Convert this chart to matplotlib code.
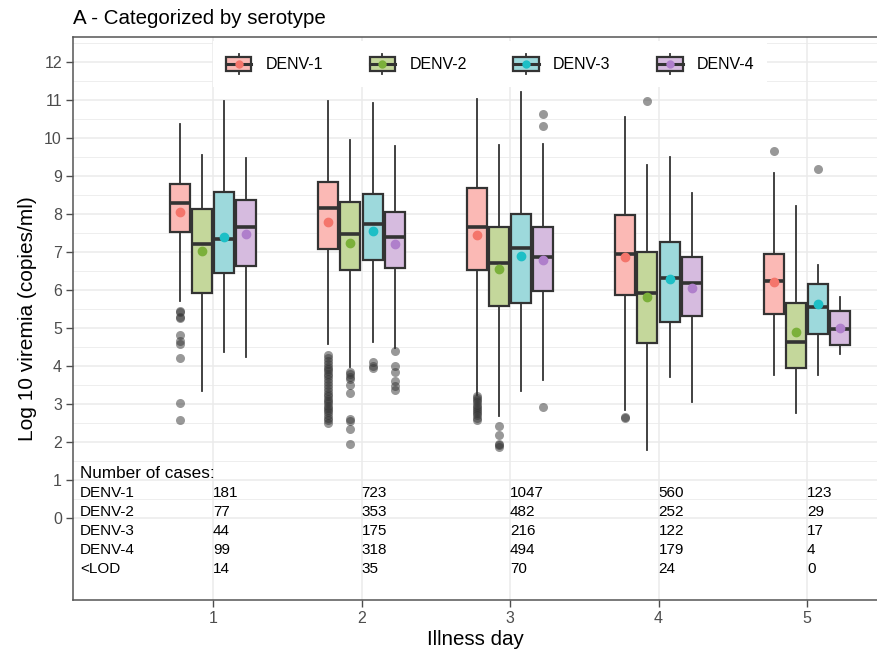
import matplotlib
matplotlib.use("Agg")
import matplotlib.pyplot as plt
from matplotlib.legend_handler import HandlerBase
from matplotlib.patches import Rectangle, Patch
from matplotlib.lines import Line2D
import numpy as np

plt.rcParams["font.family"] = ["Liberation Sans", "DejaVu Sans"]

# ---------------- data ----------------
days = [1, 2, 3, 4, 5]
serotypes = ["DENV-1", "DENV-2", "DENV-3", "DENV-4"]
mean_colors = ["#F4756B", "#7BB03A", "#1DBFC6", "#AF7FCB"]
fill_colors = ["#FBB9B5", "#C4D79B", "#9DD9DC", "#D6BBDF"]

d1_q1 = [7.52, 7.08, 6.53, 5.87, 5.36]
d1_med = [8.30, 8.15, 7.67, 6.94, 6.25]
d1_q3 = [8.79, 8.85, 8.69, 7.97, 6.95]
d1_lo = [5.72, 4.58, 3.24, 2.84, 3.75]
d1_hi = [10.36, 10.98, 11.03, 10.54, 9.07]
d1_mean = [8.06, 7.80, 7.45, 6.88, 6.22]
d1_out = [
    [5.45, 5.43, 5.28, 5.26, 4.82, 4.65, 4.58, 4.20, 3.02, 2.58],
    [4.29, 4.20, 4.12, 4.05, 3.98, 3.92, 3.86, 3.80, 3.74, 3.66, 3.58, 3.50, 3.42,
     3.35, 3.27, 3.20, 3.14, 3.08, 3.02, 2.96, 2.90, 2.84, 2.78, 2.72, 2.64, 2.57, 2.51],
    [3.20, 3.15, 3.10, 3.04, 2.98, 2.93, 2.88, 2.82, 2.76, 2.70, 2.64, 2.58],
    [2.67, 2.63],
    [9.66],
]

d2_q1 = [5.91, 6.53, 5.58, 4.60, 3.96]
d2_med = [7.20, 7.48, 6.70, 5.93, 4.64]
d2_q3 = [8.13, 8.31, 7.67, 6.99, 5.67]
d2_lo = [3.35, 3.98, 2.69, 1.79, 2.75]
d2_hi = [9.55, 9.95, 9.82, 9.29, 8.22]
d2_mean = [7.03, 7.25, 6.54, 5.81, 4.89]
d2_out = [
    [],
    [3.85, 3.78, 3.72, 3.65, 3.50, 3.28, 2.60, 2.55, 2.33, 1.95],
    [2.43, 2.18, 1.95, 1.91, 1.88],
    [10.97],
    [],
]

d3_q1 = [6.44, 6.79, 5.67, 5.15, 4.84]
d3_med = [7.33, 7.73, 7.10, 6.31, 5.56]
d3_q3 = [8.59, 8.52, 7.99, 7.26, 6.15]
d3_lo = [4.36, 4.62, 3.35, 3.70, 3.75]
d3_hi = [10.98, 10.93, 11.22, 9.49, 6.65]
d3_mean = [7.40, 7.55, 6.90, 6.30, 5.63]
d3_out = [[], [4.11, 3.99, 3.95], [], [], [9.18]]

d4_q1 = [6.63, 6.59, 5.97, 5.32, 4.55]
d4_med = [7.67, 7.39, 6.86, 6.18, 4.97]
d4_q3 = [8.36, 8.06, 7.65, 6.86, 5.45]
d4_lo = [4.23, 4.48, 3.63, 3.06, 4.31]
d4_hi = [9.48, 9.79, 9.83, 8.56, 5.81]
d4_mean = [7.47, 7.21, 6.79, 6.04, 5.01]
d4_out = [[], [4.39, 4.01, 3.83, 3.61, 3.48, 3.37], [10.62, 10.31, 2.93], [], []]

table_labels = ["DENV-1", "DENV-2", "DENV-3", "DENV-4", "<LOD"]
cases_denv1 = [181, 723, 1047, 560, 123]
cases_denv2 = [77, 353, 482, 252, 29]
cases_denv3 = [44, 175, 216, 122, 17]
cases_denv4 = [99, 318, 494, 179, 4]
cases_lod = [14, 35, 70, 24, 0]

yticks = list(range(0, 13))

# ---------------- figure ----------------
fig = plt.figure(figsize=(8.77, 6.5), dpi=100)
ax = fig.add_axes([73 / 877, 1 - 600 / 650, 1 - 73 / 877, (600 - 37) / 650])

stats_all = [
    (d1_q1, d1_med, d1_q3, d1_lo, d1_hi, d1_mean, d1_out),
    (d2_q1, d2_med, d2_q3, d2_lo, d2_hi, d2_mean, d2_out),
    (d3_q1, d3_med, d3_q3, d3_lo, d3_hi, d3_mean, d3_out),
    (d4_q1, d4_med, d4_q3, d4_lo, d4_hi, d4_mean, d4_out),
]
offsets = [-0.225, -0.075, 0.075, 0.225]
edge = "#333333"

for s, (q1, med, q3, lo, hi, mn, out) in enumerate(stats_all):
    bstats = []
    for i in range(len(days)):
        bstats.append(dict(q1=q1[i], med=med[i], q3=q3[i], whislo=lo[i], whishi=hi[i],
                           mean=mn[i], fliers=np.array(out[i])))
    pos = [d + offsets[s] for d in days]
    ax.bxp(bstats, positions=pos, widths=0.135, patch_artist=True, showmeans=True,
           showcaps=False, manage_ticks=False, zorder=3,
           boxprops=dict(facecolor=fill_colors[s], edgecolor=edge, linewidth=1.6),
           medianprops=dict(color=edge, linewidth=2.6, solid_capstyle="butt"),
           whiskerprops=dict(color=edge, linewidth=1.3),
           meanprops=dict(marker="o", markerfacecolor=mean_colors[s],
                          markeredgecolor=mean_colors[s], markersize=6),
           flierprops=dict(marker="o", markerfacecolor="#333333", markeredgecolor="none",
                           alpha=0.5, markersize=6.5))

# table of case counts
rows = [cases_denv1, cases_denv2, cases_denv3, cases_denv4, cases_lod]
ax.text(0.104, 1.18, "Number of cases:", fontsize=12.3, va="center", ha="left", color="black")
for r, (lab, vals) in enumerate(zip(table_labels, rows)):
    yy = 0.66 - 0.5 * r
    ax.text(0.104, yy, lab, fontsize=11, va="center", ha="left", color="black")
    for d, v in zip(days, vals):
        ax.text(d, yy, str(v), fontsize=11, va="center", ha="left", color="black")

ax.set_xlim(0.0572, 5.471)
ax.set_ylim(-2.158, 12.658)
ax.set_xticks(days)
ax.set_yticks(yticks)
ax.set_yticks(np.arange(0.5, 12.6, 1.0), minor=True)
ax.tick_params(axis="both", which="major", colors="#4D4D4D", labelsize=11.5, length=5,
               width=1, pad=3)
ax.tick_params(axis="y", which="minor", length=0)
ax.grid(True, which="major", color="#EBEBEB", linewidth=1.1, zorder=0)
ax.grid(True, which="minor", axis="y", color="#EBEBEB", linewidth=0.6, zorder=0)
ax.set_axisbelow(True)
for sp in ["left", "bottom", "top"]:
    ax.spines[sp].set_color("#555555")
    ax.spines[sp].set_linewidth(1.1)
ax.spines["right"].set_visible(False)

ax.set_xlabel("Illness day", fontsize=14.8, labelpad=3)
ax.set_ylabel("Log 10 viremia (copies/ml)", fontsize=15, labelpad=5)
ax.set_title("A - Categorized by serotype", loc="left", fontsize=14.8, pad=9)


# legend with boxplot glyphs
class BoxHandler(HandlerBase):
    def create_artists(self, legend, orig_handle, xdescent, ydescent, width, height,
                       fontsize, trans):
        i = int(orig_handle.get_label())
        fcol, mcol = fill_colors[i], mean_colors[i]
        x0, y0 = -xdescent, -ydescent
        cx = x0 + width / 2
        bh = height * 0.7
        by = y0 + (height - bh) / 2
        arts = [
            Line2D([cx, cx], [y0, by], color=edge, lw=1.3),
            Line2D([cx, cx], [by + bh, y0 + height], color=edge, lw=1.3),
            Rectangle((x0, by), width, bh, facecolor=fcol, edgecolor=edge, lw=1.6),
            Line2D([x0, x0 + width], [y0 + height / 2] * 2, color=edge, lw=2.2),
            Line2D([cx], [y0 + height / 2], marker="o", markersize=6,
                   markerfacecolor=mcol, markeredgecolor="none"),
        ]
        for a in arts:
            a.set_transform(trans)
        return arts


handles = [Patch(label=str(i)) for i in range(len(serotypes))]
leg = ax.legend(handles, serotypes, handler_map={Patch: BoxHandler()}, ncol=4,
                loc="center", bbox_to_anchor=(0.519, 0.952), fontsize=11.5,
                frameon=True, facecolor="white", edgecolor="none", framealpha=1,
                handlelength=1.6, handleheight=1.6, handletextpad=0.9,
                columnspacing=2.9, borderpad=0.8, fancybox=False)
leg.set_zorder(5)

fig.savefig("out.png", dpi=100)
